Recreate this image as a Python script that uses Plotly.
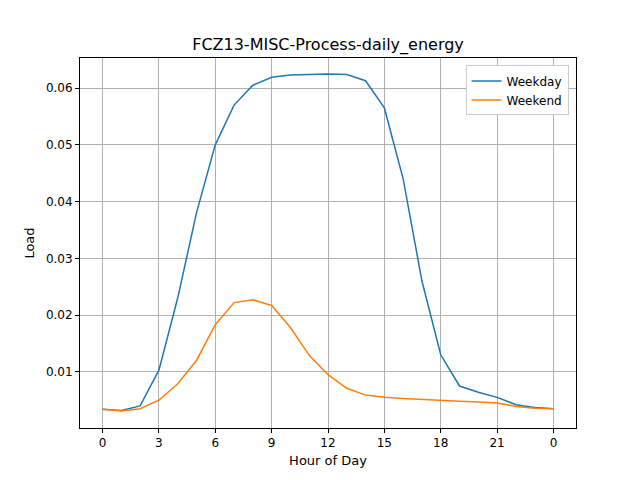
import plotly.graph_objects as go

hours = list(range(25))
weekday = [0.0034, 0.0032, 0.0040, 0.0103, 0.023, 0.038, 0.050, 0.057, 0.0605, 0.0619,
           0.0623, 0.0624, 0.0625, 0.0624, 0.0613, 0.0565, 0.044, 0.026, 0.013, 0.0075,
           0.0064, 0.0055, 0.0042, 0.0037, 0.0035]
weekend = [0.0034, 0.0031, 0.0035, 0.0050, 0.0079, 0.0120, 0.0183, 0.0222, 0.0227, 0.0217,
           0.0178, 0.0129, 0.0095, 0.0071, 0.0059, 0.0055, 0.0053, 0.0051, 0.0049, 0.0048,
           0.0047, 0.0045, 0.0039, 0.0036, 0.0035]
tick_vals = [0, 3, 6, 9, 12, 15, 18, 21, 24]
tick_text = ["0", "3", "6", "9", "12", "15", "18", "21", "0"]

fig = go.Figure()
fig.add_trace(go.Scatter(x=hours, y=weekday, mode="lines", name="Weekday",
                         line=dict(color="#1f77b4", width=1.5)))
fig.add_trace(go.Scatter(x=hours, y=weekend, mode="lines", name="Weekend",
                         line=dict(color="#ff7f0e", width=1.5)))

axis = dict(showline=True, linecolor="black", linewidth=1, mirror=True,
            showgrid=True, gridcolor="#b0b0b0", gridwidth=1, zeroline=False,
            ticks="outside", ticklen=4, tickcolor="black",
            tickfont=dict(size=12, color="black"))
fig.update_xaxes(axis, range=[-1.2, 25.2], tickvals=tick_vals, ticktext=tick_text,
                 title=dict(text="Hour of Day", font=dict(size=13, color="black"), standoff=6))
fig.update_yaxes(axis, range=[0.0001, 0.0653], tickvals=[0.01, 0.02, 0.03, 0.04, 0.05, 0.06],
                 tickformat=".2f",
                 title=dict(text="Load", font=dict(size=13, color="black"), standoff=8))
fig.update_layout(
    width=640, height=480, template="none",
    font=dict(family="DejaVu Sans", color="black"),
    paper_bgcolor="white", plot_bgcolor="white",
    margin=dict(l=72, r=72, t=50, b=60),
    title=dict(text="FCZ13-MISC-Process-daily_energy", x=0.5, xanchor="center",
               y=0.935, yanchor="top", font=dict(size=16, color="black")),
    legend=dict(x=0.985, y=0.98, xanchor="right", yanchor="top",
                bgcolor="white", bordercolor="#cccccc", borderwidth=1,
                font=dict(size=12, color="black")),
    showlegend=True,
)
fig.write_html("out.html")
